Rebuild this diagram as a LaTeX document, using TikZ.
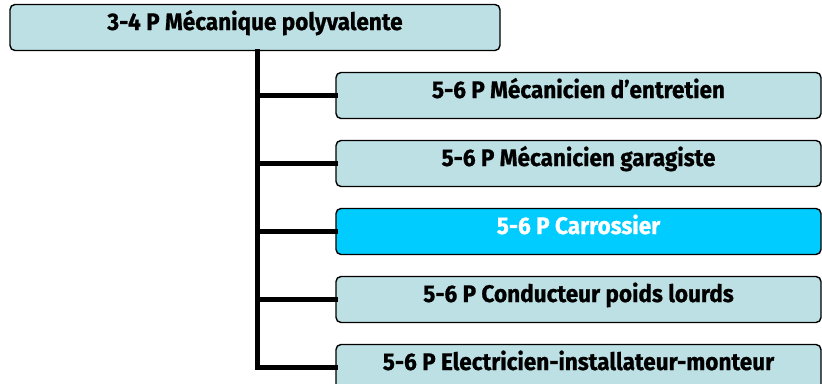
\documentclass[tikz,border=0pt]{standalone}
\usepackage{fontspec}
\setmainfont{Fira Sans}[FakeStretch=0.94, BoldFeatures={FakeBold=0.8}]
\usetikzlibrary{calc}
\definecolor{boxpale}{HTML}{BCE0E4}
\definecolor{boxcyan}{HTML}{00CCFF}
\tikzset{
	filiere/.style={draw=black, line width=1.4pt, rounded corners=5pt, fill=boxpale,
		font=\fontsize{24}{27}\selectfont\bfseries, text height=17pt, text depth=12pt,
		minimum height=46pt, inner sep=0pt},
	enfant/.style={filiere, minimum width=485pt},
	choisi/.style={enfant, fill=boxcyan, text=white},
	branche/.style={line width=4.5pt, line cap=rect}
}

\begin{document}
\begin{tikzpicture}[x=1pt, y=-1pt]
			%%%%% START %%%%%
			
			\useasboundingbox (0, 0) rectangle (822, 383);
			
			\node[filiere, minimum width=490pt] (meca) at (255, 27.5) {3-4 P Mécanique polyvalente};
			
			\node[enfant] (entretien) at (578.5, 95.5) {5-6 P Mécanicien d’entretien};
			\node[enfant] (garagiste) at (578.5, 163.5) {5-6 P Mécanicien garagiste};
			\node[choisi] (carrossier) at (578.5, 231.5) {5-6 P Carrossier};
			\node[enfant] (conducteur) at (578.5, 299.5) {5-6 P Conducteur poids lourds};
			\node[enfant] (electricien) at (578.5, 367.5) {5-6 P Electricien-installateur-monteur};
			
			\coordinate (tronc) at (257.5, 51);
			
			\draw[branche] (tronc) |- (entretien.west);
			\draw[branche] (tronc) |- (garagiste.west);
			\draw[branche] (tronc) |- (carrossier.west);
			\draw[branche] (tronc) |- (conducteur.west);
			\draw[branche] (tronc) |- (electricien.west);
			
			%%%%% END %%%%%
\end{tikzpicture}
\end{document}
